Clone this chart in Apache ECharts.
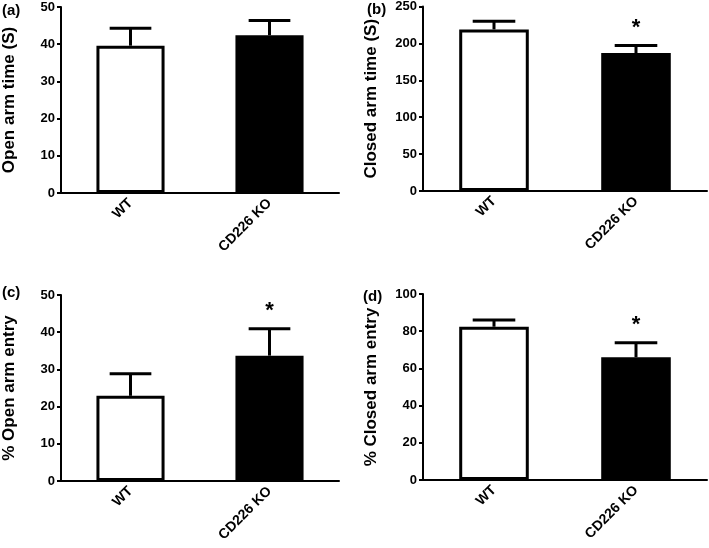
<!DOCTYPE html>
<html>
<head>
<meta charset="utf-8">
<script src="https://cdn.jsdelivr.net/npm/echarts@6/dist/echarts.min.js"></script>
<style>
  html, body { margin: 0; padding: 0; background: #fff; }
  #chart { width: 709px; height: 548px; }
</style>
</head>
<body>
<div id="chart"></div>
<script>
// groups on the x axis
const groups = ["WT", "CD226 KO"];

// (a) open arm time
const openTimeMean = [39.6, 42.4];
const openTimeUpper = [44.3, 46.4];
// (b) closed arm time
const closedTimeMean = [219, 187];
const closedTimeUpper = [230, 197];
// (c) % open arm entry
const openEntryMean = [22.9, 33.7];
const openEntryUpper = [28.8, 40.9];
// (d) % closed arm entry
const closedEntryMean = [82.4, 66];
const closedEntryUpper = [86, 73.8];

// significance marks per group
const sigA = [false, false];
const sigB = [false, true];
const sigC = [false, true];
const sigD = [false, true];

const FONT = "'Liberation Sans', Arial, sans-serif";
const barColors = ["#ffffff", "#000000"];

const panels = [
  { tag: "(a)", name: "Open arm time (S)", max: 50, interval: 10, mean: openTimeMean, upper: openTimeUpper, sig: sigA,
    grid: { left: 59, top: 7, width: 280, height: 186 }, tagPos: [2, 3] },
  { tag: "(b)", name: "Closed arm time (S)", max: 250, interval: 50, mean: closedTimeMean, upper: closedTimeUpper, sig: sigB,
    grid: { left: 423, top: 6, width: 284, height: 185 }, tagPos: [367, 2] },
  { tag: "(c)", name: "% Open arm entry", max: 50, interval: 10, mean: openEntryMean, upper: openEntryUpper, sig: sigC,
    grid: { left: 59, top: 295, width: 280, height: 186 }, tagPos: [2, 285] },
  { tag: "(d)", name: "% Closed arm entry", max: 100, interval: 20, mean: closedEntryMean, upper: closedEntryUpper, sig: sigD,
    grid: { left: 423, top: 294, width: 284, height: 186 }, tagPos: [363, 289] },
];

const chart = echarts.init(document.getElementById("chart"), null, { renderer: "canvas" });

const grid = [], xAxis = [], yAxis = [], series = [], graphic = [];

panels.forEach((p, i) => {
  grid.push(Object.assign({ containLabel: false }, p.grid));

  xAxis.push({
    type: "category",
    gridIndex: i,
    data: groups,
    axisLine: { lineStyle: { color: "#000", width: 2 } },
    axisTick: { alignWithLabel: true, length: 6, lineStyle: { color: "#000", width: 2 } },
    axisLabel: { rotate: 45, margin: 8, color: "#000", fontSize: 14, fontWeight: "bold", fontFamily: FONT },
    splitLine: { show: false },
  });

  yAxis.push({
    type: "value",
    gridIndex: i,
    min: 0,
    max: p.max,
    interval: p.interval,
    name: p.name,
    nameLocation: "middle",
    nameGap: 43,
    nameTextStyle: { color: "#000", fontSize: 17, fontWeight: "bold", fontFamily: FONT },
    axisLine: { show: true, lineStyle: { color: "#000", width: 2 } },
    axisTick: { show: true, length: 4, lineStyle: { color: "#000", width: 2 } },
    axisLabel: { margin: 6, color: "#000", fontSize: 13, fontWeight: "bold", fontFamily: FONT },
    splitLine: { show: false },
  });

  series.push({
    type: "bar",
    xAxisIndex: i,
    yAxisIndex: i,
    barWidth: "49%",
    data: p.mean.map((v, k) => ({
      value: v,
      itemStyle: { color: barColors[k], borderColor: "#000", borderWidth: 3 },
    })),
    silent: true,
    animation: false,
  });

  // upward error bars and significance stars
  series.push({
    type: "custom",
    xAxisIndex: i,
    yAxisIndex: i,
    z: 3,
    animation: false,
    silent: true,
    data: p.mean.map((v, k) => [k, v, p.upper[k], p.sig[k] ? 1 : 0]),
    renderItem: (params, api) => {
      const base = api.coord([api.value(0), api.value(1)]);
      const top = api.coord([api.value(0), api.value(2)]);
      const half = api.size([1, 0])[0] * 0.15;
      const style = { stroke: "#000", lineWidth: 3 };
      const children = [
        { type: "line", shape: { x1: top[0], y1: base[1], x2: top[0], y2: top[1] }, style },
        { type: "line", shape: { x1: top[0] - half, y1: top[1], x2: top[0] + half, y2: top[1] }, style },
      ];
      if (api.value(3)) {
        children.push({
          type: "text",
          style: {
            text: "*",
            x: top[0],
            y: top[1] - 18,
            align: "center",
            verticalAlign: "middle",
            fill: "#000",
            fontSize: 22,
            fontWeight: "bold",
            fontFamily: FONT,
          },
        });
      }
      return { type: "group", children };
    },
  });

  graphic.push({
    type: "text",
    left: p.tagPos[0],
    top: p.tagPos[1],
    style: { text: p.tag, fill: "#000", fontSize: 15, fontWeight: "bold", fontFamily: FONT },
  });
});

chart.setOption({
  backgroundColor: "#fff",
  animation: false,
  grid,
  xAxis,
  yAxis,
  series,
  graphic,
});
</script>
</body>
</html>
